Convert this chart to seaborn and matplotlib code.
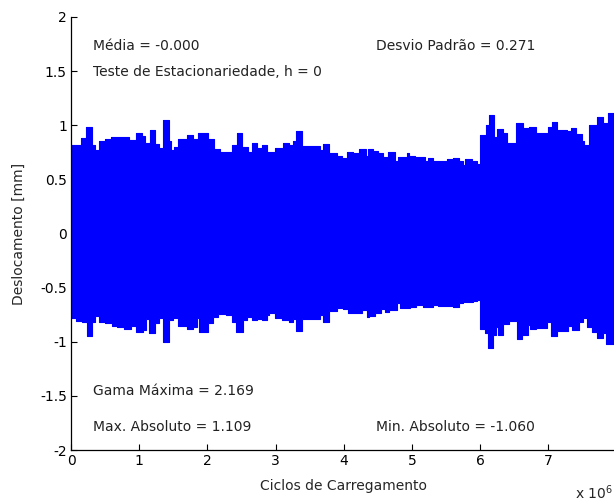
import matplotlib
matplotlib.use("Agg")
import matplotlib.pyplot as plt
import numpy as np
import pandas as pd
import seaborn as sns

# upper envelope of the displacement signal (step edges in 10^6 cycles, values in mm)
upper_edges = [0.0, 0.147, 0.220, 0.308, 0.348, 0.406, 0.494, 0.591, 0.738, 0.855,
               0.958, 1.041, 1.089, 1.154, 1.236, 1.295, 1.349, 1.433, 1.471, 1.510,
               1.569, 1.701, 1.789, 1.862, 1.935, 2.013, 2.097, 2.185, 2.258, 2.356,
               2.430, 2.503, 2.600, 2.650, 2.723, 2.796, 2.878, 2.991, 3.104, 3.196,
               3.260, 3.295, 3.383, 3.651, 3.699, 3.787, 3.896, 3.969, 4.042, 4.139,
               4.227, 4.326, 4.359, 4.433, 4.506, 4.579, 4.652, 4.751, 4.799, 4.922,
               4.960, 5.044, 5.191, 5.239, 5.312, 5.386, 5.509, 5.606, 5.694, 5.752,
               5.777, 5.875, 5.957, 5.997, 6.085, 6.129, 6.202, 6.251, 6.330, 6.397,
               6.525, 6.623, 6.720, 6.818, 6.975, 6.999, 7.048, 7.130, 7.268, 7.327,
               7.405, 7.488, 7.522, 7.600, 7.708, 7.796, 7.878, 8.0]
upper_vals = [0.82, 0.885, 0.98, 0.82, 0.77, 0.85, 0.875, 0.895, 0.89, 0.86,
              0.93, 0.90, 0.84, 0.955, 0.83, 0.79, 1.05, 0.85, 0.77, 0.80,
              0.875, 0.91, 0.875, 0.925, 0.93, 0.873, 0.78, 0.755, 0.75, 0.817,
              0.925, 0.80, 0.755, 0.833, 0.79, 0.817, 0.75, 0.79, 0.833, 0.817,
              0.854, 0.946, 0.81, 0.77, 0.826, 0.74, 0.72, 0.70, 0.755, 0.74,
              0.78, 0.716, 0.78, 0.765, 0.74, 0.71, 0.755, 0.67, 0.703, 0.74,
              0.716, 0.71, 0.667, 0.70, 0.667, 0.67, 0.69, 0.70, 0.667, 0.635,
              0.685, 0.67, 0.64, 0.91, 1.0, 1.094, 0.894, 0.965, 0.93, 0.84,
              1.02, 0.97, 0.98, 0.93, 0.85, 0.98, 1.03, 0.955, 0.95, 0.97,
              0.92, 0.85, 0.817, 1.0, 1.073, 1.017, 1.109]

# lower envelope
lower_edges = [0.0, 0.073, 0.157, 0.230, 0.312, 0.352, 0.415, 0.499, 0.597, 0.679,
               0.777, 0.875, 0.953, 1.060, 1.100, 1.148, 1.232, 1.295, 1.345, 1.437,
               1.491, 1.510, 1.573, 1.696, 1.784, 1.852, 1.881, 2.013, 2.087, 2.160,
               2.273, 2.356, 2.419, 2.518, 2.576, 2.650, 2.723, 2.796, 2.870, 2.908,
               2.991, 3.089, 3.201, 3.260, 3.299, 3.383, 3.651, 3.699, 3.787, 3.905,
               3.984, 4.066, 4.164, 4.262, 4.336, 4.374, 4.457, 4.541, 4.604, 4.667,
               4.784, 4.824, 4.971, 5.054, 5.166, 5.304, 5.386, 5.606, 5.694, 5.743,
               5.767, 5.899, 5.957, 5.997, 6.070, 6.119, 6.192, 6.232, 6.265, 6.339,
               6.427, 6.535, 6.608, 6.705, 6.730, 6.818, 6.984, 7.034, 7.130, 7.292,
               7.342, 7.453, 7.503, 7.562, 7.635, 7.708, 7.805, 7.845, 8.0]
lower_vals = [-0.783, -0.805, -0.814, -0.944, -0.814, -0.762, -0.814, -0.829, -0.854, -0.86,
              -0.882, -0.854, -0.907, -0.89, -0.79, -0.916, -0.823, -0.783, -0.999, -0.80,
              -0.722, -0.783, -0.854, -0.882, -0.86, -0.783, -0.907, -0.823, -0.768, -0.743,
              -0.757, -0.814, -0.907, -0.80, -0.768, -0.80, -0.79, -0.80, -0.757, -0.731,
              -0.783, -0.80, -0.814, -0.79, -0.897, -0.79, -0.753, -0.814, -0.716, -0.691,
              -0.70, -0.737, -0.731, -0.706, -0.768, -0.762, -0.737, -0.70, -0.722, -0.706,
              -0.645, -0.691, -0.675, -0.66, -0.682, -0.66, -0.67, -0.682, -0.645, -0.614,
              -0.635, -0.62, -0.614, -0.885, -0.916, -1.06, -0.937, -0.866, -0.937, -0.836,
              -0.808, -0.977, -0.937, -0.845, -0.882, -0.876, -0.814, -0.944, -0.897, -0.854,
              -0.89, -0.814, -0.783, -0.86, -0.907, -0.968, -0.916, -1.02]

x_ticks = [0, 1, 2, 3, 4, 5, 6, 7, 8]
x_tick_labels = ["0", "1", "2", "3", "4", "5", "6", "7", ""]  # 8 falls past the crop
y_ticks = [-2, -1.5, -1, -0.5, 0, 0.5, 1, 1.5, 2]
y_tick_labels = ["-2", "-1.5", "-1", "-0.5", "0", "0.5", "1", "1.5", "2"]

stats_text = [
    (0.32, 1.73, "Média = -0.000"),
    (4.47, 1.73, "Desvio Padrão = 0.271"),
    (0.32, 1.49, "Teste de Estacionariedade, h = 0"),
    (0.32, -1.455, "Gama Máxima = 2.169"),
    (0.32, -1.787, "Max. Absoluto = 1.109"),
    (4.47, -1.787, "Min. Absoluto = -1.060"),
]

sns.set_style("ticks", {"xtick.direction": "in", "ytick.direction": "in"})
plt.rcParams["font.family"] = ["DejaVu Sans"]
fs = 10

fig = plt.figure(figsize=(6.14, 5.01), dpi=100)
ax = fig.add_axes([71 / 614, 51 / 501, 545.6 / 614, 433 / 501])

blue = "#0000ff"
up = pd.DataFrame({"x": upper_edges, "y": upper_vals + [upper_vals[-1]]})
lo = pd.DataFrame({"x": lower_edges, "y": lower_vals + [lower_vals[-1]]})
ax.fill_between(up["x"], -0.1, up["y"], step="post", color=blue, linewidth=0)
ax.fill_between(lo["x"], lo["y"], 0.1, step="post", color=blue, linewidth=0)
sns.lineplot(data=up, x="x", y="y", drawstyle="steps-post", color=blue,
             linewidth=0.8, estimator=None, sort=False, ax=ax)
sns.lineplot(data=lo, x="x", y="y", drawstyle="steps-post", color=blue,
             linewidth=0.8, estimator=None, sort=False, ax=ax)

for x, y, s in stats_text:
    ax.text(x, y, s, ha="left", va="center", fontsize=fs, color="#222222")

ax.set_xlim(0, 8)
ax.set_ylim(-2, 2)
ax.set_xticks(x_ticks)
ax.set_xticklabels(x_tick_labels)
ax.set_yticks(y_ticks)
ax.set_yticklabels(y_tick_labels)
ax.tick_params(labelsize=fs, length=4, width=0.8, colors="black", pad=3)
ax.set_xlabel("Ciclos de Carregamento", fontsize=fs, labelpad=8)
ax.set_ylabel("Deslocamento [mm]", fontsize=fs, labelpad=10)
sns.despine(ax=ax)
for s in ("left", "bottom"):
    ax.spines[s].set_linewidth(0.9)
    ax.spines[s].set_color("black")

fig.text(0.998, 1 - 493 / 501, "x 10$^{6}$", fontsize=fs, ha="right", va="center")

fig.savefig("out.png", dpi=100)
